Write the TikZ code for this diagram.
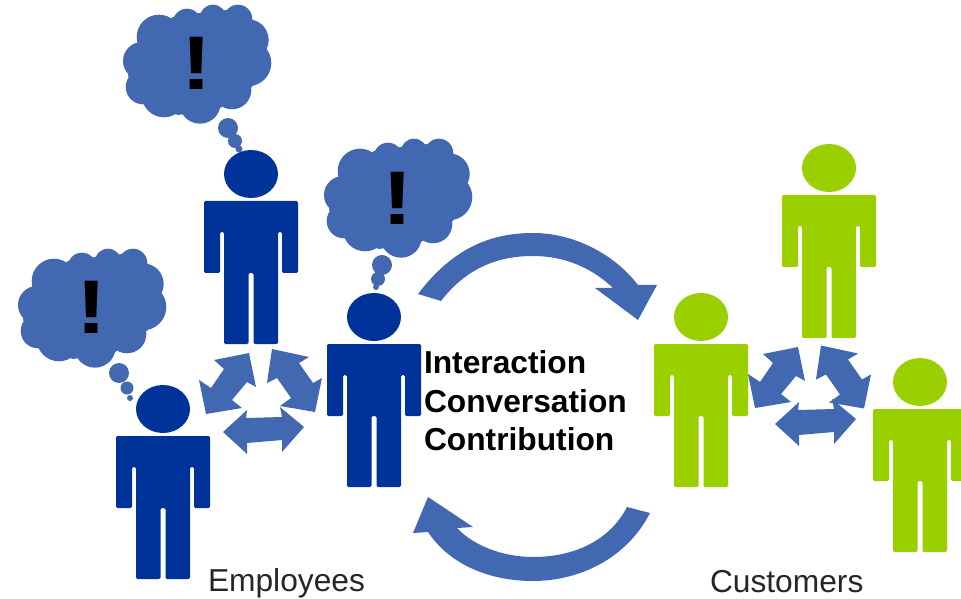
\documentclass[tikz,border=0pt]{standalone}
\usepackage{fontspec}
\setmainfont{Liberation Sans}
\definecolor{darkblue}{HTML}{003399}
\definecolor{lightblue}{HTML}{4268B1}
\definecolor{leaf}{HTML}{9BD000}
\tikzset{
	plain/.style={inner sep=0pt,outer sep=0pt,font=\fontsize{23.8}{28}\selectfont,text=black!85},
	heavy/.style={plain,font=\fontsize{23.8}{28}\selectfont\bfseries,text=black},
	bang/.style={inner sep=0pt,outer sep=0pt,anchor=base,font=\fontsize{57}{60}\selectfont\bfseries}
}
\newcommand{\person}[3]{
	\fill[#3,shift={(#1,#2)}] (0,-27) ellipse [x radius=27,y radius=24];
	\fill[#3,shift={(#1,#2)},rounded corners=1pt] (-47,0)--(47,0)--(47,72)--(31,72)--(31,31)--(27,31)--(27,143)--(2.5,143)--(2.5,72)--(-2.5,72)--(-2.5,143)--(-27,143)--(-27,31)--(-31,31)--(-31,72)--(-47,72)--cycle;
}
\newcommand{\cloud}[2]{
	\fill[lightblue,shift={(#1,#2)}] (173,17)--(200,13)--(227,10)--(253,20)--(267,47)--(252,87)--(220,108)--(178,115)--(143,103)--(128,76)--(135,45)--cycle
		(187,23) circle [radius=14.3] (213,18) circle [radius=13.3] (238,19) circle [radius=14.3]
		(248,40) circle [radius=20.7] (248,63) circle [radius=23.3] (232,90) circle [radius=19.3]
		(200,103) circle [radius=20.7] (164,95) circle [radius=22.3] (143,87) circle [radius=17.3]
		(142,61) circle [radius=19] (159,37) circle [radius=22.3];
}
\newcommand{\arrowlow}[2]{
	\fill[lightblue,shift={(#1,#2)}] (223,432)--(247,410)--(246,418)--(282,417)--(280,407)--(304,427)--(282,452)--(282,440)--(247,443)--(247,454)--cycle;
}
\newcommand{\arrowwest}[2]{
	\fill[lightblue,shift={(#1,#2)}] (249,353)--(256,387)--(247,382)--(232,400)--(242,408)--(206,414)--(199,380)--(211,388)--(224,369)--(214,360)--cycle;
}
\newcommand{\arroweast}[2]{
	\fill[lightblue,shift={(#1,#2)}] (272,349)--(309,357)--(299,363)--(313,383)--(322,378)--(315,412)--(280,406)--(291,398)--(277,378)--(267,383)--cycle;
}
\begin{document}
\begin{tikzpicture}[x=0.75pt,y=-0.75pt]
	\useasboundingbox (0,0) rectangle (961,599);
% people
	\person{163}{436}{darkblue}
	\person{251}{201}{darkblue}
	\person{374}{344}{darkblue}
	\person{701}{344}{leaf}
	\person{829}{195}{leaf}
	\person{920}{409}{leaf}
% clouds
	\cloud{0}{0}
	\cloud{201}{134}
	\cloud{-105}{244}
	\fill[lightblue] (228,128) circle [radius=10] (235,141) circle [radius=7] (239,149) circle [radius=3.5];
	\fill[lightblue] (382,265) circle [radius=10] (378,279) circle [radius=7] (376,287) circle [radius=3];
	\fill[lightblue] (119,373) circle [radius=10] (127,388) circle [radius=6.5] (130,398) circle [radius=3];
	\node[bang] (B1) at (197,90) {\scalebox{1.2}[1]{!}};
	\node[bang] (B2) at (398,225) {\scalebox{1.2}[1]{!}};
	\node[bang] (B3) at (92,333) {\scalebox{1.2}[1]{!}};
% small arrows
	\arrowlow{0}{0}
	\arrowwest{0}{0}
	\arroweast{0}{0}
	\arrowlow{552}{-8}
	\arrowwest{549}{-6}
	\arroweast{549}{-3.5}
% big arrows
	\fill[lightblue] (418,294) .. controls (455,245) and (495,233) .. (533,233) .. controls (575,233) and (615,255) .. (638,285) -- (657,285) -- (638,320) -- (595,288) -- (613,288) .. controls (592,268) and (565,256) .. (533,256) .. controls (495,256) and (465,270) .. (441,301) -- cycle;
	\fill[lightblue] (650,513) .. controls (627,558) and (580,581) .. (533,581) .. controls (490,581) and (450,565) .. (428,532) -- (413,533) -- (428,497) -- (473,527) -- (457,528) .. controls (475,547) and (505,557) .. (533,557) .. controls (575,557) and (610,540) .. (627,507) -- cycle;
% labels
	\node[heavy,anchor=base west] (I) at (424,373) {Interaction};
	\node[heavy,anchor=base west] (V) at (424,412) {Conversation};
	\node[heavy,anchor=base west] (T) at (424,450) {Contribution};
	\node[plain,anchor=base west] (E) at (208,591) {Employees};
	\node[plain,anchor=base west] (C) at (710,592) {Customers};
\end{tikzpicture}
\end{document}
